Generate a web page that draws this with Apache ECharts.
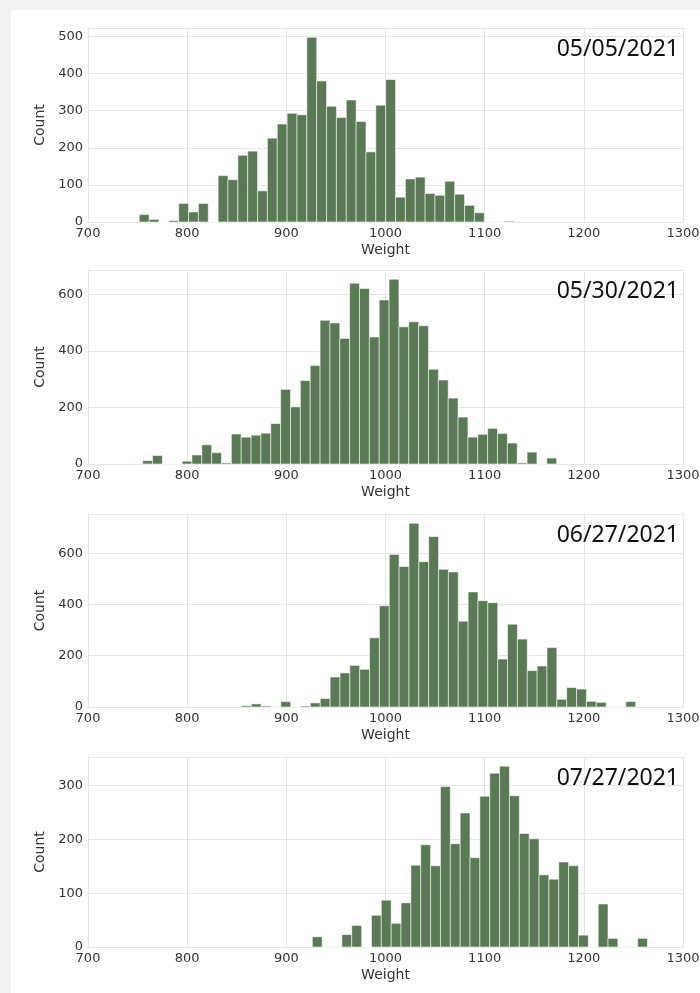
<!DOCTYPE html>
<html>
<head><meta charset="utf-8"></head>
<script type="text/javascript" src="https://cdn.jsdelivr.net/npm/echarts@6/dist/echarts.min.js"></script>
<body style="margin:0;background-color:#f2f2f2;">
    <div id="main" style="position:absolute;left:11px;top:10px;width:689px;height:983px;background-color:white;"></div>
</body>

<script>
// dates shown in each panel
var dates = ['05/05/2021', '05/30/2021', '06/27/2021', '07/27/2021']
// left edge of first bin and bin width (Weight units)
var binStart = [751.7, 755.1, 854.7, 926.2]
var binWidth = 9.94
// counts per bin
var counts1 = [20, 7, 0, 4, 50, 27, 50, 0, 125, 114, 180, 191, 84, 226, 264, 293, 289, 498, 380, 312,
               282, 329, 271, 189, 315, 384, 67, 116, 121, 77, 72, 110, 75, 45, 25, 0, 0, 2]
var counts2 = [12, 30, 0, 0, 10, 32, 68, 40, 4, 106, 95, 102, 109, 143, 264, 202, 295, 348, 508, 499,
               444, 639, 621, 449, 580, 653, 485, 503, 489, 335, 297, 233, 166, 95, 105, 126, 108, 74, 4, 42, 0, 21]
var counts3 = [5, 12, 4, 0, 21, 0, 4, 16, 33, 117, 133, 162, 147, 270, 395, 595, 548, 717, 567, 665,
               537, 527, 335, 449, 415, 407, 187, 323, 265, 142, 160, 232, 30, 76, 70, 22, 18, 0, 0, 21]
var counts4 = [19, 0, 0, 23, 40, 0, 59, 87, 44, 82, 152, 190, 151, 298, 192, 249, 166, 280, 323, 336,
               281, 211, 201, 134, 126, 158, 151, 22, 0, 80, 16, 0, 0, 16]
var allCounts = [counts1, counts2, counts3, counts4]
// axis ranges and ticks
var xMin = 700, xMax = 1300, xStep = 100
var yMax = [523, 686, 753, 353]
var yStep = [100, 200, 200, 100]

var gridTops = [28, 270, 514, 757]
var gridHeights = [194, 194, 193, 190]

var myChart = echarts.init(document.getElementById('main'))

function plain(v) { return String(v) }

var grids = [], xAxes = [], yAxes = [], series = [], titles = []
for (var k = 0; k < 4; k++) {
    grids.push({left: 77, right: 17, top: gridTops[k] - 10, height: gridHeights[k],
                containLabel: false, outerBoundsMode: 'none'})
    xAxes.push({
        gridIndex: k, type: 'value', min: xMin, max: xMax, interval: xStep,
        name: 'Weight', nameLocation: 'middle', nameGap: 21,
        nameTextStyle: {fontFamily: 'DejaVu Sans', fontSize: 14, color: '#333'},
        axisLine: {show: true, onZero: false, lineStyle: {color: '#e6e6e6'}},
        axisTick: {show: false},
        axisLabel: {fontFamily: 'DejaVu Sans', fontSize: 13, color: '#333', margin: 5, formatter: plain},
        splitLine: {show: true, lineStyle: {color: '#e6e6e6'}}
    })
    yAxes.push({
        gridIndex: k, type: 'value', min: 0, max: yMax[k], interval: yStep[k],
        name: 'Count', nameLocation: 'middle', nameGap: 37,
        nameTextStyle: {fontFamily: 'DejaVu Sans', fontSize: 14, color: '#333'},
        axisLine: {show: true, lineStyle: {color: '#e6e6e6'}},
        axisTick: {show: false},
        axisLabel: {fontFamily: 'DejaVu Sans', fontSize: 13, color: '#333', margin: 5, showMaxLabel: false, formatter: plain},
        splitLine: {show: true, lineStyle: {color: '#e6e6e6'}}
    })
    var data = allCounts[k].map(function (c, i) {
        return [binStart[k] + i * binWidth, binStart[k] + (i + 1) * binWidth, c]
    })
    series.push({
        type: 'custom', xAxisIndex: k, yAxisIndex: k, data: data,
        encode: {x: [0, 1], y: 2},
        renderItem: function (params, api) {
            var p0 = api.coord([api.value(0), api.value(2)])
            var p1 = api.coord([api.value(1), 0])
            return {
                type: 'rect',
                shape: {x: p0[0], y: p0[1], width: p1[0] - p0[0], height: p1[1] - p0[1]},
                style: {fill: '#5a7a56', stroke: 'rgba(255,255,255,0.55)', lineWidth: 1}
            }
        }
    })
    titles.push({
        text: dates[k], right: 16, top: gridTops[k] - 5,
        textStyle: {fontFamily: 'Noto Sans', fontSize: 23, fontWeight: 'normal', color: '#111'}
    })
}

var option = {
    animation: false,
    title: titles,
    grid: grids,
    xAxis: xAxes,
    yAxis: yAxes,
    series: series
}

option && myChart.setOption(option)
</script>
</html>
